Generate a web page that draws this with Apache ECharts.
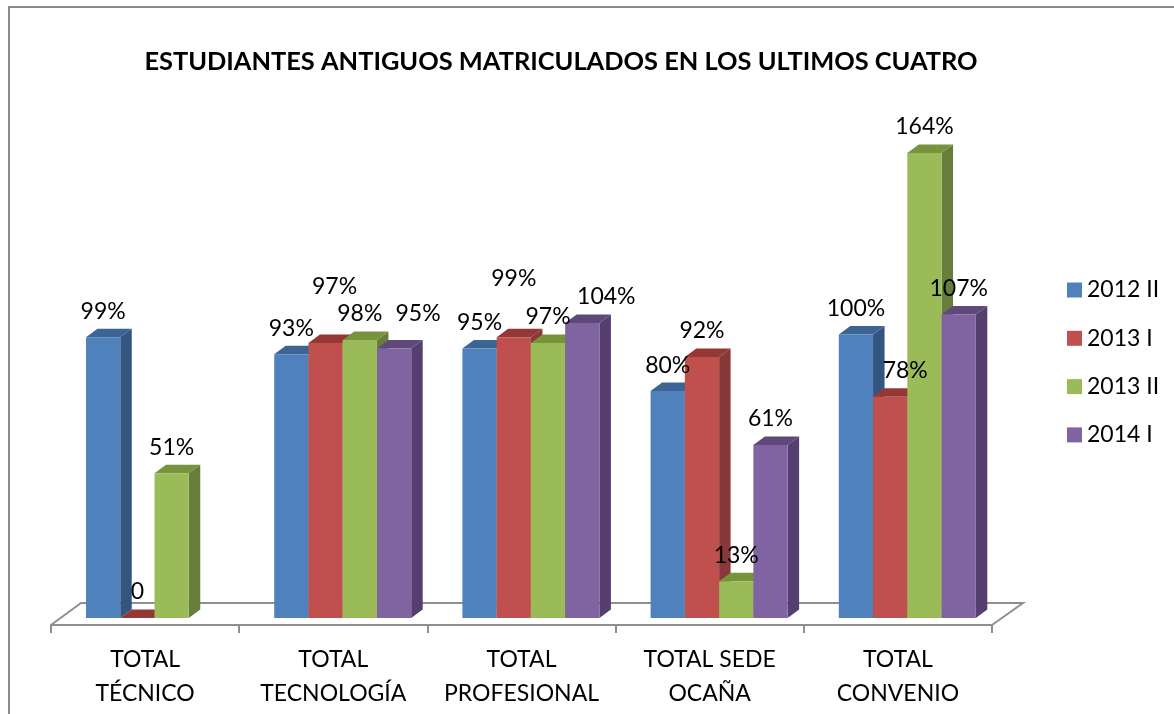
<!DOCTYPE html>
<html>
<head>
<meta charset="utf-8">
<style>html,body{margin:0;padding:0;background:#fff;overflow:hidden}#c{width:1174px;height:714px}</style>
<script src="https://cdn.jsdelivr.net/npm/echarts@6/dist/echarts.min.js"></script>
</head>
<body>
<div id="c"></div>
<script>
var titleText = 'ESTUDIANTES ANTIGUOS MATRICULADOS EN LOS ULTIMOS CUATRO';
var categories = ['TOTAL\nTÉCNICO', 'TOTAL\nTECNOLOGÍA', 'TOTAL\nPROFESIONAL', 'TOTAL SEDE\nOCAÑA', 'TOTAL\nCONVENIO'];
var seriesNames = ['2012 II', '2013 I', '2013 II', '2014 I'];
var values2012II = [99, 93, 95, 80, 100];
var values2013I = [0, 97, 99, 92, 78];
var values2013II = [51, 98, 97, 13, 164];
var values2014I = [null, 95, 104, 61, 107];

var allValues = [values2012II, values2013I, values2013II, values2014I];
var front = ['#4F81BD', '#C0504D', '#9BBB59', '#8064A2'];
var side = ['#33557F', '#87383A', '#677D3B', '#553F6F'];
var top3d = ['#3C6594', '#953735', '#77933C', '#5F497A'];
// manual nudges of individual data labels [series, category, dx, dy]
var labelNudges = [[1, 1, 9, -30], [3, 1, 24, -9], [1, 2, 0, -33], [3, 2, 24, 0], [1, 4, 15, 0]];

var FONT = 'Lato';
var DX = 11.5, DY = 8.5;
var AXIS_GRAY = '#8F8F8F';

function barGeom(api, s) {
  var cat = api.value(0), v = api.value(1);
  if (isNaN(v)) return null;
  var p = api.coord([cat, v]);
  var base = api.coord([cat, 0]);
  var band = api.size([1, 0])[0];
  var w = band * 0.182;
  var x = p[0] + band * 0.05 + (s - 2) * w;
  return {x: x, w: w, top: p[1], base: base[1]};
}

function barRender(s) {
  return function (params, api) {
    var g = barGeom(api, s);
    if (!g) return;
    var x = g.x, w = g.w, t = g.top, b = g.base;
    return {type: 'group', children: [
      {type: 'polygon', shape: {points: [[x + w, t], [x + w + DX, t - DY], [x + w + DX, b - DY], [x + w, b]]}, style: {fill: side[s]}},
      {type: 'polygon', shape: {points: [[x, t], [x + DX, t - DY], [x + w + DX, t - DY], [x + w, t]]}, style: {fill: top3d[s]}},
      {type: 'rect', shape: {x: x, y: t, width: w, height: b - t}, style: {fill: front[s]}}
    ]};
  };
}

function labelRender(s) {
  return function (params, api) {
    var g = barGeom(api, s);
    if (!g) return;
    var cat = api.value(0), v = api.value(1);
    var dx = 0, dy = 0;
    labelNudges.forEach(function (n) { if (n[0] === s && n[1] === cat) { dx = n[2]; dy = n[3]; } });
    return {type: 'text', style: {
      x: g.x + g.w / 2 + dx, y: g.top - 26 + dy,
      text: v === 0 ? '0' : v + '%',
      font: '23px ' + FONT, fill: '#000', align: 'center', verticalAlign: 'middle'
    }};
  };
}

function rows(arr) { return arr.map(function (v, i) { return [i, v]; }); }

var series = [{
  type: 'custom', name: 'floor', silent: true, z: 1, data: [[0, 0]],
  renderItem: function (params, api) {
    var c = params.coordSys;
    var base = api.coord([0, 0])[1];
    var fy = base + 7, by = base - 15, sk = 30;
    return {type: 'polyline', shape: {points: [[c.x, fy], [c.x + sk, by], [c.x + c.width + sk + 1, by], [c.x + c.width, fy]]},
      style: {fill: null, stroke: AXIS_GRAY, lineWidth: 2}};
  }
}];
allValues.forEach(function (arr, s) {
  series.push({type: 'custom', name: seriesNames[s], z: 2, silent: true, itemStyle: {color: front[s]},
    data: rows(arr), encode: {x: 0, y: 1}, renderItem: barRender(s)});
});
allValues.forEach(function (arr, s) {
  series.push({type: 'custom', name: 'lbl' + s, z: 5, silent: true,
    data: rows(arr), encode: {x: 0, y: 1}, renderItem: labelRender(s)});
});

var chart = echarts.init(document.getElementById('c'), null, {renderer: 'canvas'});
chart.setOption({
  animation: false,
  backgroundColor: '#fff',
  title: {text: titleText, left: 561, top: 49, padding: 0, textAlign: 'center',
    textStyle: {fontFamily: FONT, fontSize: 25.4, fontWeight: 'bold', color: '#000'}},
  legend: {data: seriesNames, orient: 'vertical', left: 1067, top: 278.5, padding: 0, icon: 'rect', itemWidth: 15, itemHeight: 15, itemGap: 25.3,
    selectedMode: false, textStyle: {fontFamily: FONT, fontSize: 23, color: '#000', padding: 0}},
  graphic: [{type: 'polyline', silent: true, z: 0, shape: {points: [[9, 730], [9, 7], [1180, 7]]}, style: {fill: null, stroke: '#8C8C8C', lineWidth: 2}}],
  grid: {left: 51, width: 941, top: 107.5, height: 510.5},
  xAxis: {type: 'category', data: categories, offset: 7,
    axisLine: {onZero: false, lineStyle: {color: AXIS_GRAY, width: 2}},
    axisTick: {show: true, alignWithLabel: false, length: 8, lineStyle: {color: AXIS_GRAY, width: 2}},
    axisLabel: {interval: 0, margin: 18, fontFamily: FONT, fontSize: 23, color: '#000', lineHeight: 34}},
  yAxis: {type: 'value', min: 0, max: 180, show: false},
  series: series
});
</script>
</body>
</html>
